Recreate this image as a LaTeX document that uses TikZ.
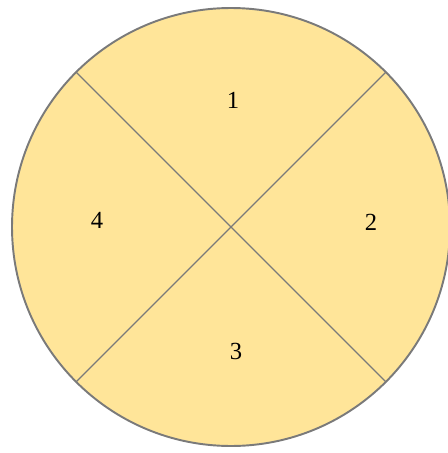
\documentclass[tikz,border=0pt]{standalone}
\usepackage{fontspec}
\setmainfont{Liberation Serif}
\usetikzlibrary{positioning}
\definecolor{sectorfill}{HTML}{FFE599}
\definecolor{rimgray}{HTML}{7A7A7A}

\begin{document}
\begin{tikzpicture}[x=0.02cm, y=-0.02cm,
disk/.style={draw=rimgray, line width=1.1pt, fill=sectorfill, circle,
              minimum size=438*0.02cm, inner sep=0pt, outer sep=0pt},
cut/.style={draw=rimgray, line width=0.7pt},
num/.style={font=\fontsize{14}{16}\selectfont, inner sep=1pt},
]
\useasboundingbox (0,0) rectangle (448,453);
\node[disk] (D) at (231,227) {};
\draw[cut] (D.north west) -- (D.south east);
\draw[cut] (D.north east) -- (D.south west);
\node[num] (n1) at (233,100) {1};
\node[num] (n2) at (371,222) {2};
\node[num] (n3) at (236,351) {3};
\node[num] (n4) at (97,220) {4};
\end{tikzpicture}
\end{document}
